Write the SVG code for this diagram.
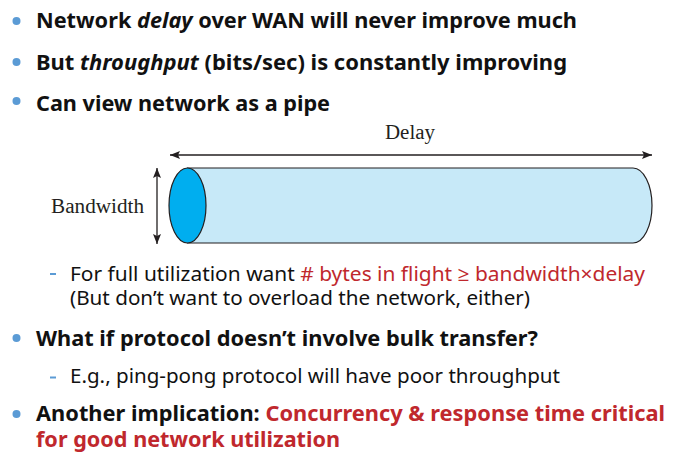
<svg xmlns="http://www.w3.org/2000/svg" width="686" height="454" viewBox="0 0 686 454">
<defs>
<style>
.b{font-family:"Noto Sans","Open Sans",sans-serif;font-weight:bold;font-size:21.5px;fill:#111}
.r{font-family:"Noto Sans","Open Sans",sans-serif;font-size:20px;fill:#111}
.red{fill:#C0282D}
.s{font-family:"Liberation Serif",serif;font-size:20px;fill:#231F20}
.dot{fill:#5B9BD5}
.dash{stroke:#5B9BD5;stroke-width:2}
.ar{stroke:#231F20;stroke-width:1.3;fill:none}
</style>
<marker id="ah" viewBox="0 0 10 8" refX="10" refY="4" markerWidth="10" markerHeight="8" markerUnits="userSpaceOnUse" orient="auto-start-reverse">
<path d="M0,0 L10,4 L0,8 L2,4 Z" fill="#231F20"/>
</marker>
</defs>
<rect width="686" height="454" fill="#fff"/>
<g id="bullets">
<circle class="dot" cx="16.5" cy="21" r="4"/>
<circle class="dot" cx="16.5" cy="62" r="4"/>
<circle class="dot" cx="16.5" cy="101" r="4"/>
<circle class="dot" cx="16.5" cy="338" r="4"/>
<circle class="dot" cx="16.5" cy="414" r="4"/>
<line class="dash" x1="50" y1="274" x2="56" y2="274"/>
<line class="dash" x1="50" y1="377.5" x2="56" y2="377.5"/>
</g>
<g id="text">
<text class="b" x="36" y="28" textLength="541" lengthAdjust="spacingAndGlyphs">Network <tspan font-style="italic">delay</tspan> over WAN will never improve much</text>
<text class="b" x="36" y="70" textLength="531" lengthAdjust="spacingAndGlyphs">But <tspan font-style="italic">throughput</tspan> (bits/sec) is constantly improving</text>
<text class="b" x="36" y="111" textLength="294" lengthAdjust="spacingAndGlyphs">Can view network as a pipe</text>
<text class="r" x="70" y="281" textLength="575" lengthAdjust="spacingAndGlyphs">For full utilization want <tspan class="red"># bytes in flight ≥ bandwidth×delay</tspan></text>
<text class="r" x="70" y="305" textLength="460" lengthAdjust="spacingAndGlyphs">(But don’t want to overload the network, either)</text>
<text class="b" x="36" y="346" textLength="502" lengthAdjust="spacingAndGlyphs">What if protocol doesn’t involve bulk transfer?</text>
<text class="r" x="70" y="383" textLength="490" lengthAdjust="spacingAndGlyphs">E.g., ping-pong protocol will have poor throughput</text>
<text class="b" x="36" y="421" textLength="629" lengthAdjust="spacingAndGlyphs">Another implication: <tspan class="red">Concurrency &amp; response time critical</tspan></text>
<text class="b red" x="36" y="447" textLength="304" lengthAdjust="spacingAndGlyphs">for good network utilization</text>
</g>
<g id="pipe">
<path d="M187.5,168 H633 A19,37.5 0 0 1 633,243 H187.5 Z" fill="#C7E9F8" stroke="#231F20" stroke-width="1.2"/>
<ellipse cx="187.5" cy="205.5" rx="18.5" ry="37.5" fill="#00AEEF" stroke="#231F20" stroke-width="1.2"/>
</g>
<g id="labels">
<text class="s" x="385" y="139" textLength="50" lengthAdjust="spacingAndGlyphs">Delay</text>
<text class="s" x="51" y="213" textLength="93" lengthAdjust="spacingAndGlyphs">Bandwidth</text>
</g>
<g id="connectors">
<line class="ar" x1="170" y1="155" x2="652" y2="155" marker-start="url(#ah)" marker-end="url(#ah)"/>
<line class="ar" x1="157" y1="168" x2="157" y2="244" marker-start="url(#ah)" marker-end="url(#ah)"/>
</g>
</svg>
